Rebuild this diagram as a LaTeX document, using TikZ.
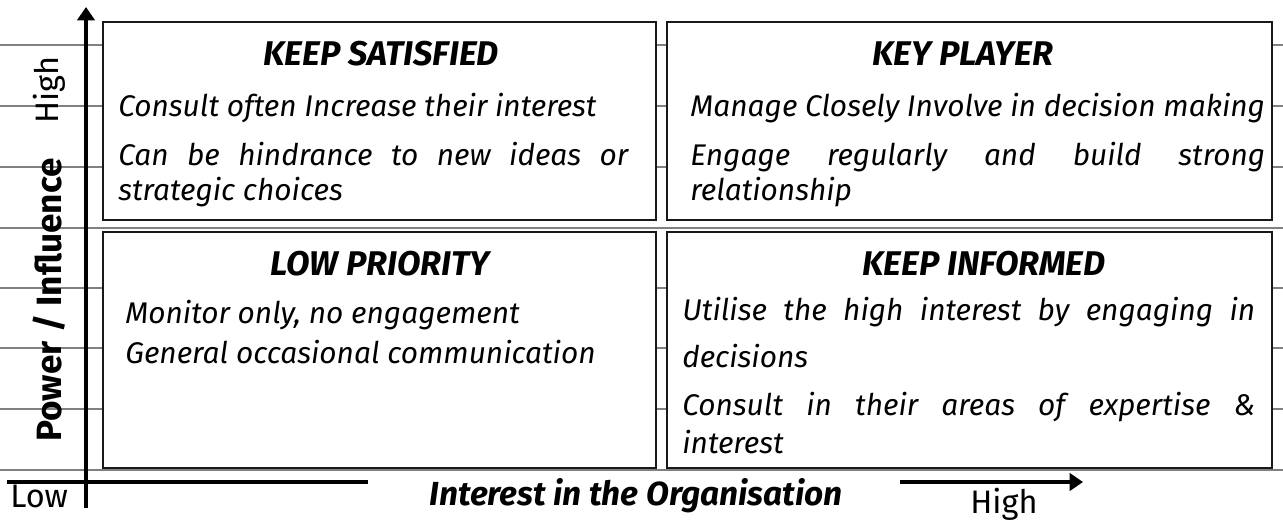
\documentclass[tikz,border=0pt]{standalone}
\usepackage{fontspec}
\setmainfont{Fira Sans}
\usepackage{tikz}
\usetikzlibrary{arrows.meta}
\usetikzlibrary{positioning}
\tikzset{
    quad/.style={
           rectangle,
           draw=black!90, line width=1.1pt,
           fill=white,
           outer sep=0pt,
           inner sep=0pt,
           anchor=north west,
           },
    heading/.style={
           anchor=base,
           inner sep=0pt,
           font=\fontsize{19.5}{22}\selectfont\bfseries\itshape,
           },
    body/.style={
           anchor=base west,
           inner sep=0pt,
           align=justify,
           font=\fontsize{17}{20}\selectfont\itshape,
           },
    rule/.style={draw=black!50, line width=1.1pt},
    axis/.style={line width=2.3pt},
    axislabel/.style={inner sep=0pt, font=\fontsize{18.5}{20}\selectfont},
}

\begin{document}
\begin{tikzpicture}[x=0.02cm, y=-0.02cm, >={Triangle[length=0.27cm,width=0.35cm]}]

 \useasboundingbox (0,0) rectangle (1283,521);

 % ruled paper behind everything
 \foreach \ry in {45,106,167,228,288,348,409,470}
   \draw[rule] (0,\ry) -- (1283,\ry);

 % the four boxes, top left first
 \node[quad, minimum width=11.06cm, minimum height=3.96cm] (KS) at (103,22) {};
 \node[quad, minimum width=12.1cm, minimum height=3.96cm,
 right=0.22cm of KS.north east, anchor=north west] (KP) {};
 \node[quad, minimum width=11.06cm, minimum height=4.72cm,
 below=0.24cm of KS.south west, anchor=north west] (LP) {};
 \node[quad, minimum width=12.1cm, minimum height=4.72cm,
 below=0.24cm of KP.south west, anchor=north west] (KI) {};

 % KEEP SATISFIED
 \node[heading] (ksHead) at (381,65) {KEEP SATISFIED};
 \node[body] (ksOne) at (118,116) {Consult often Increase their interest};
 \node[body, text width=10.2cm] (ksTwo) at (118,165)
 {Can be hindrance to new ideas or\linebreak strategic choices};

 % KEY PLAYER
 \node[heading] (kpHead) at (963,65) {KEY PLAYER};
 \node[body] (kpOne) at (690,116) {Manage Closely Involve in decision making};
 \node[body, text width=11.5cm] (kpTwo) at (690,165)
 {Engage regularly and build strong\linebreak relationship};

 % LOW PRIORITY
 \node[heading] (lpHead) at (380,275) {LOW PRIORITY};
 \node[body] (lpOne) at (125,323) {Monitor only, no engagement};
 \node[body] (lpTwo) at (125,363) {General occasional communication};

 % KEEP INFORMED
 \node[heading] (kiHead) at (984,275) {KEEP INFORMED};
 \node[body, text width=11.46cm, font=\fontsize{17}{27}\selectfont\itshape] (kiOne) at (682,320)
 {Utilise the high interest by engaging in\linebreak decisions};
 \node[body, text width=11.46cm, font=\fontsize{17}{22}\selectfont\itshape] (kiTwo) at (682,415)
 {Consult in their areas of expertise \&\linebreak interest};

 % axes
 \coordinate (yBot) at (86,508);
 \coordinate (yTop) at (86,7);
 \coordinate (xLeft) at (7,482);
 \coordinate (xMid) at (368,482);
 \coordinate (xFrom) at (900,482);
 \coordinate (xTo) at (1083,482);
 \draw[axis,->] (yBot) -- (yTop);
 \draw[axis] (xLeft) -- (xMid);
 \draw[axis,->] (xFrom) -- (xTo);

 % axis texts
 \node[axislabel, rotate=90] (yHigh) at (49,90) {High};
 \node[axislabel, rotate=90, font=\fontsize{20}{22}\selectfont\bfseries] (yName) at (49,300) {Power / Influence};
 \node[axislabel, anchor=base west] (xLow) at (10,507) {Low};
 \node[axislabel, anchor=base, font=\fontsize{19}{21}\selectfont\bfseries\itshape] (xName) at (636,505) {Interest in the Organisation};
 \node[axislabel, anchor=base west] (xHigh) at (970,513) {High};
\end{tikzpicture}
\end{document}
